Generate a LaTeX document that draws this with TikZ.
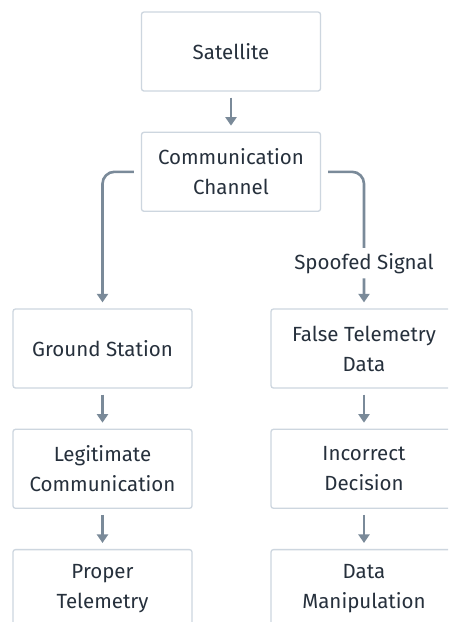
\documentclass[tikz,border=0pt]{standalone}
\usepackage{fontspec}
\setmainfont{Fira Sans}
\usetikzlibrary{arrows.meta,positioning}

\definecolor{boxline}{HTML}{CDD6DF}
\definecolor{textcol}{HTML}{26303C}
\definecolor{linkcol}{HTML}{7A8A99}

\begin{document}
\begin{tikzpicture}[
        x=1pt, y=-1pt,
        node distance=40pt,
        box/.style={draw=boxline, line width=1.3pt, rounded corners=2.5pt, fill=white,
            minimum width=179pt, minimum height=79pt, align=center, text=textcol,
            font=\fontsize{20.5}{30}\selectfont},
        widebox/.style={box, minimum width=186pt},
        link/.style={draw=linkcol, line width=2.6pt, -{Triangle[length=8.5pt,width=11pt]}},
        linklabel/.style={fill=white, text=textcol, inner sep=5pt, font=\fontsize{20.5}{30}\selectfont}
    ]
    \fill[white] (0,0) rectangle (448,622);
    \useasboundingbox (0,0) rectangle (448,622);
    \clip (0,0) rectangle (448,622);

    % top
    \node[box] (sat) at (231,51.5) {Satellite};
    \node[box, below=of sat] (chan) {Communication\\Channel};

    % legitimate path
    \node[box] (ground) at (102.5,348.5) {Ground Station};
    \node[box, below=of ground] (legit) {Legitimate\\Communication};
    \node[box, below=of legit] (proper) {Proper\\Telemetry};

    % spoofed path
    \node[widebox] (false) at (364,348.5) {False Telemetry\\Data};
    \node[widebox, below=of false] (wrong) {Incorrect\\Decision};
    \node[widebox, below=of wrong] (manip) {Data\\Manipulation};

    % connectors
    \draw[link] ([yshift=-6pt]sat.south) -- ([yshift=6pt]chan.north);
    \draw[link, rounded corners=12pt] ([xshift=-7pt]chan.west) -| ([yshift=6pt]ground.north);
    \draw[link, rounded corners=12pt] ([xshift=7pt]chan.east) -|
        node[linklabel, pos=0.85] {Spoofed Signal} ([yshift=6pt]false.north);
    \draw[link] ([yshift=-6pt]ground.south) -- ([yshift=6pt]legit.north);
    \draw[link] ([yshift=-6pt]legit.south) -- ([yshift=6pt]proper.north);
    \draw[link] ([yshift=-6pt]false.south) -- ([yshift=6pt]wrong.north);
    \draw[link] ([yshift=-6pt]wrong.south) -- ([yshift=6pt]manip.north);
\end{tikzpicture}
\end{document}
